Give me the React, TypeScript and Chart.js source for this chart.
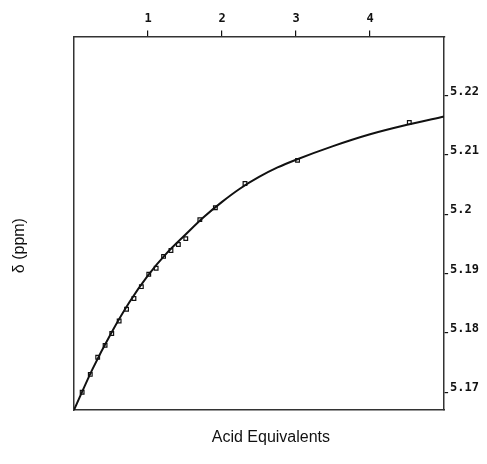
import React, { useEffect, useRef } from "react";
import { Chart, registerables } from "chart.js";

Chart.register(...registerables);

// Measured points (acid equivalents, chemical shift in ppm)
const pointX = [0.11, 0.22, 0.32, 0.42, 0.51, 0.61, 0.71, 0.81, 0.91, 1.01, 1.11, 1.21, 1.31, 1.41, 1.51, 1.7, 1.91, 2.31, 3.02, 4.53];
const pointY = [5.170, 5.173, 5.1759, 5.1779, 5.1799, 5.182, 5.184, 5.1858, 5.1878, 5.1899, 5.1909, 5.1929, 5.1939, 5.1949, 5.1959, 5.1991, 5.2011, 5.2052, 5.2091, 5.2155];

// Fitted curve
const curveX = [0, 0.25, 0.5, 0.75, 1.0, 1.25, 1.5, 1.75, 2.0, 2.25, 2.5, 2.75, 3.0, 3.5, 4.0, 4.5, 5.0];
const curveY = [5.1670, 5.1739, 5.1799, 5.1852, 5.1897, 5.1934, 5.1965, 5.1995, 5.2021, 5.2044, 5.2063, 5.2079, 5.2092, 5.2115, 5.2135, 5.2151, 5.2165];

const xTicks = [1, 2, 3, 4];
const yTicks = [5.17, 5.18, 5.19, 5.2, 5.21, 5.22];

const xTitle = "Acid Equivalents";
const yTitle = "δ (ppm)";

const INK = "#111";
const tickFont = { family: "'DejaVu Sans Mono', monospace", size: 12, weight: "bold" as const };
const titleFontCss = "16px 'Liberation Sans', Arial, sans-serif";

const titlesPlugin = {
  id: "axisTitles",
  afterDraw(chart: any) {
    const { ctx, chartArea } = chart;
    ctx.save();
    ctx.fillStyle = INK;
    ctx.font = titleFontCss;
    ctx.textAlign = "center";
    ctx.textBaseline = "middle";
    // bottom title
    ctx.fillText(xTitle, chartArea.left + (chartArea.right - chartArea.left) * 0.532, chartArea.bottom + 28);
    // left title, rotated
    ctx.translate(20, chartArea.top + (chartArea.bottom - chartArea.top) * 0.56);
    ctx.rotate(-Math.PI / 2);
    ctx.fillText(yTitle, 0, 0);
    ctx.restore();
  },
};

export default function App() {
  const ref = useRef<HTMLCanvasElement | null>(null);

  useEffect(() => {
    if (!ref.current) return;
    const chart = new Chart(ref.current, {
      type: "line",
      data: {
        datasets: [
          {
            data: curveX.map((x, i) => ({ x, y: curveY[i] })),
            borderColor: INK,
            borderWidth: 2,
            pointRadius: 0,
            cubicInterpolationMode: "monotone",
            fill: false,
          },
          {
            data: pointX.map((x, i) => ({ x, y: pointY[i] })),
            showLine: false,
            pointStyle: "rect",
            pointRadius: 2.6,
            pointBorderWidth: 1.2,
            pointBorderColor: INK,
            pointBackgroundColor: "#fff",
          },
        ],
      },
      options: {
        responsive: false,
        animation: false,
        layout: { padding: { top: 8, right: 6, left: 74, bottom: 54 } },
        plugins: { legend: { display: false }, tooltip: { enabled: false } },
        scales: {
          x: {
            type: "linear",
            position: "top",
            min: 0,
            max: 5,
            afterBuildTicks: (axis: any) => {
              axis.ticks = xTicks.map((v) => ({ value: v }));
            },
            ticks: { color: INK, font: tickFont, padding: 4, maxRotation: 0 },
            grid: { drawOnChartArea: false, tickLength: 6, color: INK, lineWidth: 1.2 },
            border: { color: "#333", width: 1.5 },
          },
          x2: {
            type: "linear",
            position: "bottom",
            min: 0,
            max: 5,
            ticks: { display: false },
            grid: { drawOnChartArea: false, drawTicks: false },
            border: { color: "#333", width: 1.5 },
          },
          y: {
            type: "linear",
            position: "right",
            min: 5.167,
            max: 5.23,
            afterBuildTicks: (axis: any) => {
              axis.ticks = yTicks.map((v) => ({ value: v }));
            },
            ticks: {
              color: INK,
              font: tickFont,
              padding: 2,
              labelOffset: -4,
              callback: (v: any) => String(parseFloat(Number(v).toFixed(2))),
            },
            grid: { drawOnChartArea: false, tickLength: 4, color: INK, lineWidth: 1.2 },
            border: { color: "#333", width: 1.5 },
          },
          y2: {
            type: "linear",
            position: "left",
            min: 5.167,
            max: 5.23,
            ticks: { display: false },
            grid: { drawOnChartArea: false, drawTicks: false },
            border: { color: "#333", width: 1.5 },
          },
        },
      },
      plugins: [titlesPlugin],
    });
    return () => chart.destroy();
  }, []);

  return (
    <div style={{ position: "fixed", left: 0, top: 0, width: 487, height: 464, background: "#fff" }}>
      <canvas ref={ref} width={487} height={464} />
    </div>
  );
}
